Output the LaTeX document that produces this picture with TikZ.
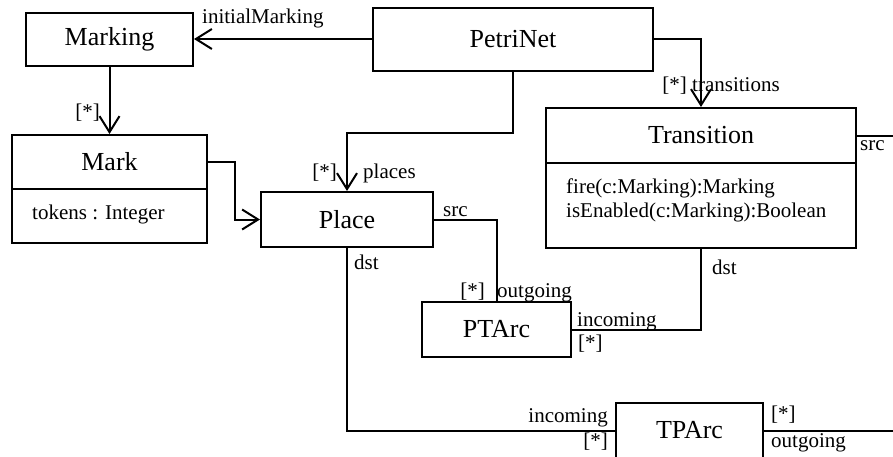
\documentclass[tikz,border=0pt]{standalone}
\usepackage{fontspec}
\setmainfont{Liberation Serif}
\usetikzlibrary{arrows.meta}

\tikzset{
	cls/.style={draw, line width=2pt, inner sep=0pt, font=\fontsize{26}{30}\selectfont},
	comp/.style={draw, line width=2pt, inner sep=0pt},
	role/.style={inner sep=0pt, font=\fontsize{21}{24}\selectfont},
	assoc/.style={line width=2pt, -{Straight Barb[length=16pt,width=20pt,sharp]}},
	link/.style={line width=2pt},
}

\begin{document}
\begin{tikzpicture}[x=1pt,y=-1pt]
		\useasboundingbox (0,0) rectangle (893,456);
		\clip (0,0) rectangle (893,456);
		
		\node[cls, minimum width=167pt, minimum height=53pt] (Marking) at (109.5,39) {Marking};
		\node[cls, minimum width=280pt, minimum height=63pt] (PetriNet) at (513,39) {PetriNet};
		\node[cls, minimum width=195pt, minimum height=54pt] (Mark) at (109.5,162) {Mark};
		\node[comp, minimum width=195pt, minimum height=54pt] (MarkBody) at (109.5,216) {};
		\node[cls, minimum width=172pt, minimum height=55pt] (Place) at (347,219.5) {Place};
		\node[cls, minimum width=310pt, minimum height=55pt] (Transition) at (701,135.5) {Transition};
		\node[comp, minimum width=310pt, minimum height=85pt] (TransitionBody) at (701,205.5) {};
		\node[cls, minimum width=149pt, minimum height=55pt] (PTArc) at (496.5,329.5) {PTArc};
		\node[cls, minimum width=147pt, minimum height=55pt] (TPArc) at (689.5,430.5) {TPArc};
		\coordinate (srcEnd) at (893,135.5);
		\coordinate (outEnd) at (893,430.5);
		
		\node[role, anchor=base west] (tokens) at (32,219) {tokens : Integer};
		\node[role, anchor=base west] (opFire) at (566,193) {fire(c:Marking):Marking};
		\node[role, anchor=base west] (opEnabled) at (566,217) {isEnabled(c:Marking):Boolean};
		
		\draw[assoc] (PetriNet) -- (Marking);
		\draw[assoc] (Marking) -- (Mark);
		\draw[assoc] (Mark.east) -- ++(27,0) |- (Place.west);
		\draw[assoc] (PetriNet.south) -- ++(0,61) -| (Place.north);
		\draw[assoc] (PetriNet.east) -| (Transition.north);
		\draw[link] (Transition.east) -- (srcEnd);
		\draw[link] (Place.east) -| (PTArc.north);
		\draw[link] (PTArc.east) -| (TransitionBody.south);
		\draw[link] (Place.south) |- (TPArc.west);
		\draw[link] (TPArc.east) -- (outEnd);
		
		\node[role, anchor=base west] (lInitial) at (202,23) {initialMarking};
		\node[role, anchor=base east] (mMarks) at (100,118) {[*]};
		\node[role, anchor=base east] (mPlaces) at (337,178) {[*]};
		\node[role, anchor=base west] (lPlaces) at (363,178) {places};
		\node[role, anchor=base east] (mTrans) at (687,91) {[*]};
		\node[role, anchor=base west] (lTrans) at (692,91) {transitions};
		\node[role, anchor=base west] (lTSrc) at (860,150) {src};
		\node[role, anchor=base west] (lPSrc) at (443,216) {src};
		\node[role, anchor=base west] (lPDst) at (354,269) {dst};
		\node[role, anchor=base east] (mPTOut) at (485,297) {[*]};
		\node[role, anchor=base west] (lPTOut) at (497,297) {outgoing};
		\node[role, anchor=base west] (lPTIn) at (577,326) {incoming};
		\node[role, anchor=base west] (mPTIn) at (578,349) {[*]};
		\node[role, anchor=base west] (lTDst) at (712,274) {dst};
		\node[role, anchor=base east] (lTPIn) at (608,422) {incoming};
		\node[role, anchor=base east] (mTPIn) at (608,447) {[*]};
		\node[role, anchor=base west] (mTPOut) at (771,420) {[*]};
		\node[role, anchor=base west] (lTPOut) at (771,447) {outgoing};
		\end{tikzpicture}
\end{document}
